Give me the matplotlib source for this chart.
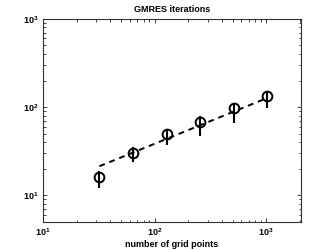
import matplotlib
matplotlib.use("Agg")
import matplotlib.pyplot as plt
import numpy as np
from matplotlib.ticker import LogLocator, NullFormatter

grid_points = [32, 64, 128, 256, 512, 1024]
iterations = [16.0, 30.2, 49.4, 68.5, 97.3, 134.0]
err_low = [12.1, 23.6, 37.4, 47.2, 66.8, 97.0]
err_high = [18.7, 35.0, 57.0, 79.0, 112.0, 154.0]
fit_x = [32, 1024]
fit_y = [21.3, 127.0]

plt.rcParams['font.family'] = ['Liberation Sans', 'DejaVu Sans']
plt.rcParams['font.weight'] = 'bold'
plt.rcParams['mathtext.default'] = 'bf'

fig = plt.figure(figsize=(3.32, 2.5), dpi=100)
ax = fig.add_axes([0.1295, 0.1132, 0.777, 0.811])

x = np.array(grid_points)
y = np.array(iterations)
lo = y - np.array(err_low)
hi = np.array(err_high) - y
ax.errorbar(x, y, yerr=[lo, hi], fmt='none', ecolor='black', elinewidth=1.5, capsize=0)
ax.plot(x, y, 'o', mfc='none', mec='black', ms=7, mew=1.4)
ax.plot(fit_x, fit_y, '--', color='black', lw=1.4, dashes=(3, 2.5))

ax.set_xscale('log')
ax.set_yscale('log')
ax.set_xlim(10, 2048)
ax.set_ylim(5, 1000)

ax.xaxis.set_major_locator(LogLocator(base=10, numticks=10))
ax.yaxis.set_major_locator(LogLocator(base=10, numticks=10))
ax.xaxis.set_minor_locator(LogLocator(base=10, subs=np.arange(2, 10), numticks=20))
ax.yaxis.set_minor_locator(LogLocator(base=10, subs=np.arange(2, 10), numticks=20))
ax.xaxis.set_minor_formatter(NullFormatter())
ax.yaxis.set_minor_formatter(NullFormatter())

ax.tick_params(which='both', direction='in', top=True, right=True, labelsize=6.5, width=0.6, colors='#222222')
ax.tick_params(which='major', length=3)
ax.tick_params(which='minor', length=1.8)
ax.tick_params(labelcolor='black')
for s in ax.spines.values():
    s.set_linewidth(0.8)
    s.set_color('#333333')

ax.set_title('GMRES iterations', fontsize=6.5, fontweight='bold', pad=5)
ax.set_xlabel('number of grid points', fontsize=6.5, fontweight='bold', labelpad=1)

fig.savefig('out.png', dpi=100)
